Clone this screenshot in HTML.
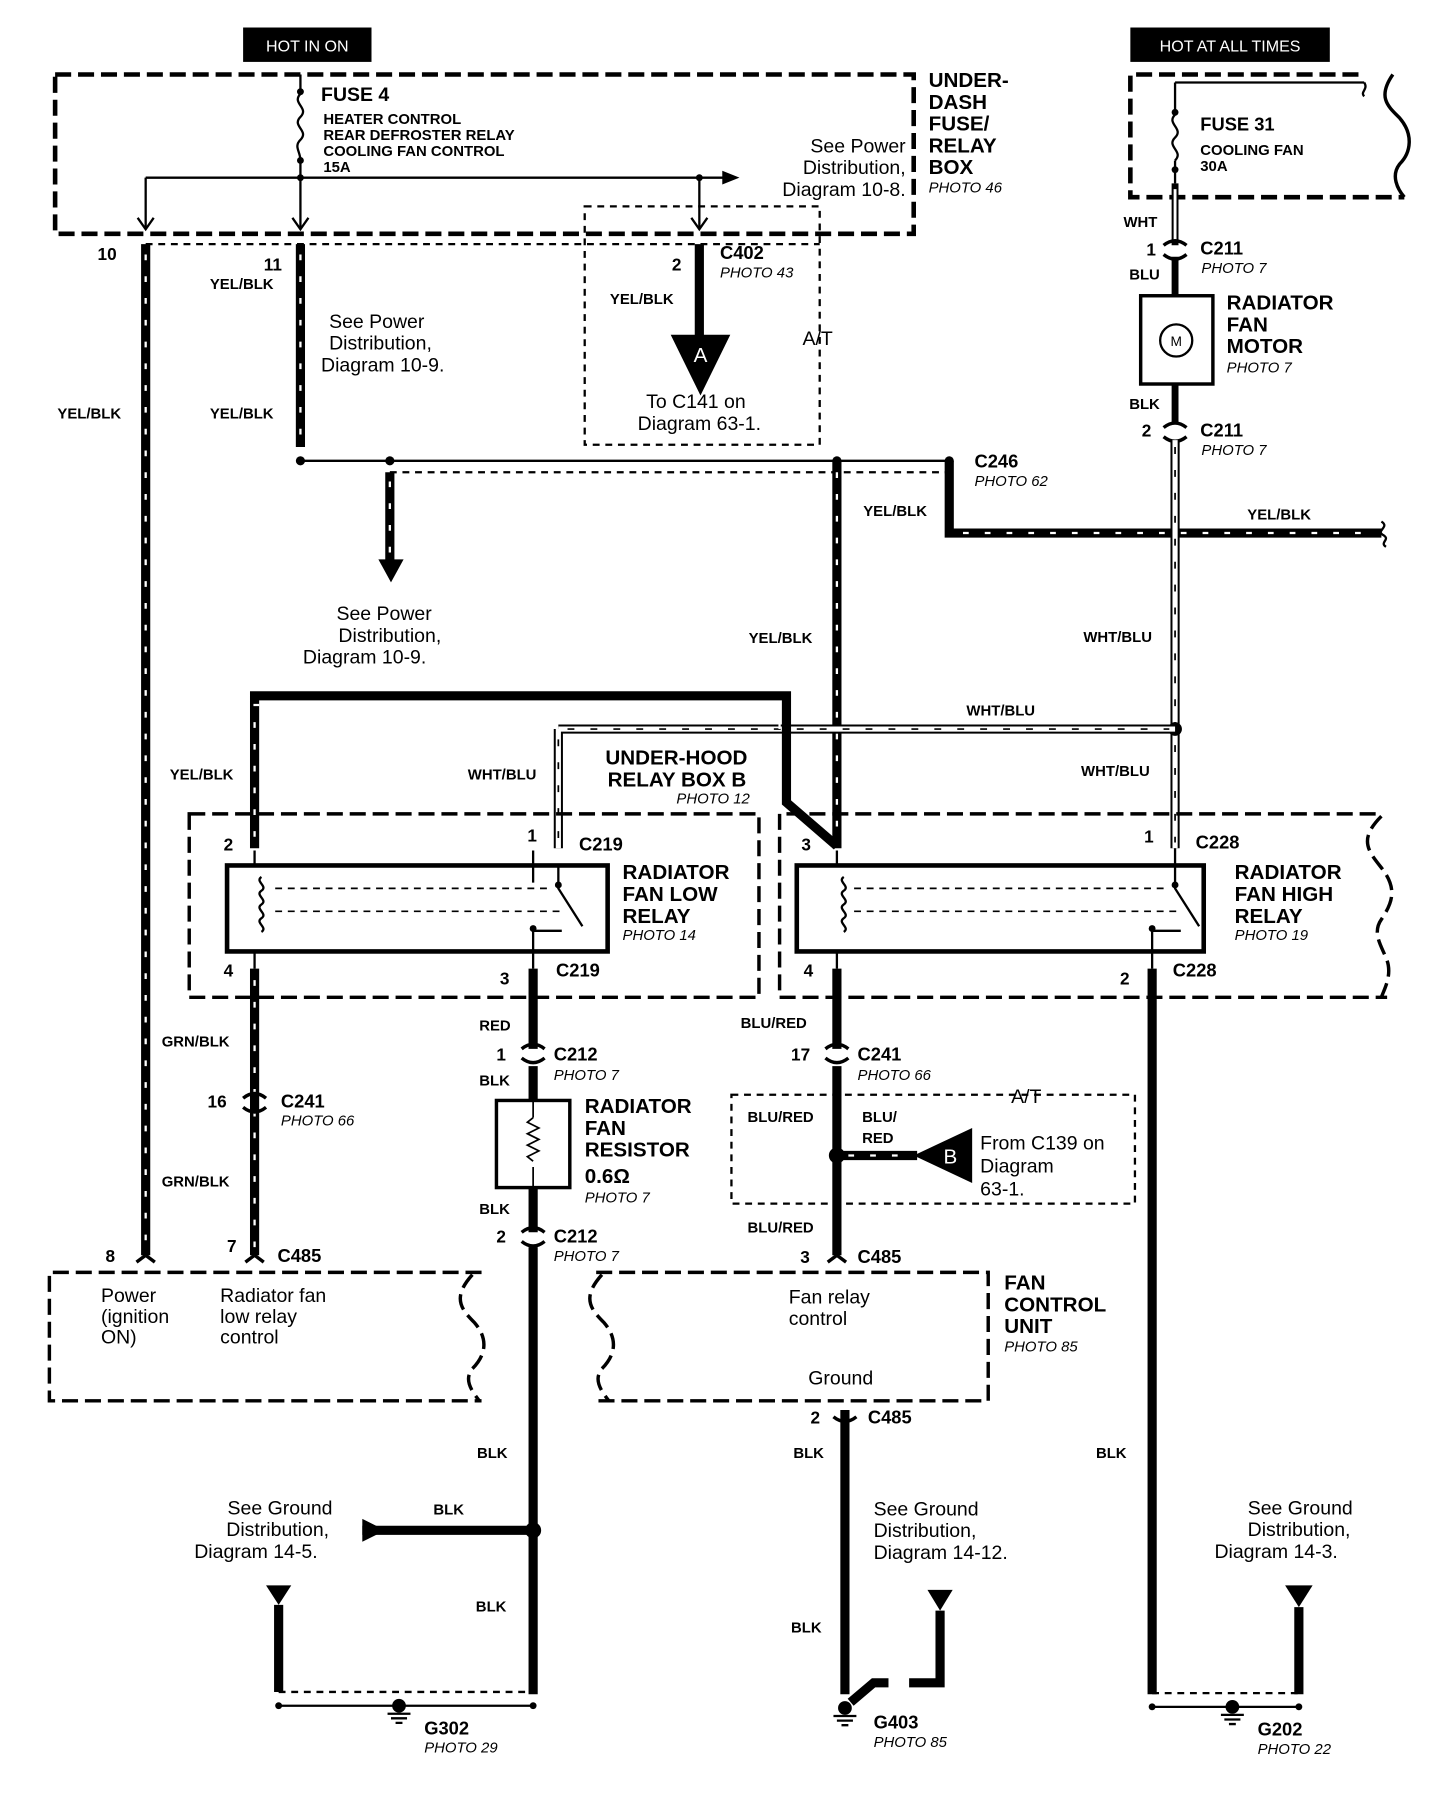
<!DOCTYPE html>
<html><head><meta charset="utf-8"><style>
html,body{margin:0;padding:0;background:#fff}
svg{display:block}
text{font-family:"Liberation Sans",sans-serif;fill:#000}
.b{font-weight:bold}
.t{font-size:17px}
.s{font-size:13px;font-weight:bold}
.h{font-size:18px;font-weight:bold}
.p{font-size:13px;font-style:italic}
.yb{stroke:#000;stroke-width:8;fill:none}
.yw{stroke:#fff;stroke-width:2;stroke-dasharray:5 14;fill:none}
.wb{stroke:#000;stroke-width:8;fill:none}
.ww{stroke:#fff;stroke-width:4.5;fill:none}
.wd{stroke:#000;stroke-width:1.5;stroke-dasharray:6 14;fill:none}
.bk{stroke:#000;stroke-width:8;fill:none}
.th{stroke:#000;stroke-width:2;fill:none}
.db{stroke:#000;stroke-width:4;stroke-dasharray:14 6;fill:none}
.dt{stroke:#000;stroke-width:2;stroke-dasharray:6 5;fill:none}
</style></head><body>
<svg width="1456" height="1802" viewBox="0 0 1270 1572" xmlns="http://www.w3.org/2000/svg">
<!-- headers -->
<rect x="212" y="24" width="112" height="30" fill="#000"/>
<text x="268" y="45" text-anchor="middle" style="fill:#fff;font-size:14px">HOT IN ON</text>
<rect x="986" y="24" width="174" height="30" fill="#000"/>
<text x="1073" y="45" text-anchor="middle" style="fill:#fff;font-size:14px">HOT AT ALL TIMES</text>

<!-- under-dash box -->
<rect x="48" y="65" width="749" height="139" class="db"/>
<path d="M262 65 V80 M262 140 V155" class="th"/>
<path d="M262 82 c-8 8 8 12 0 20 c-8 8 8 12 0 20 c-6 6 0 10 0 18" class="th"/>
<circle cx="262" cy="80" r="3"/><circle cx="262" cy="140" r="3"/>
<path d="M127 155 H640" class="th"/>
<path d="M630 149 L645 155 L630 161 Z"/>
<circle cx="262" cy="155" r="3"/><circle cx="610" cy="155" r="3"/>
<path d="M127 155 V200 M262 155 V200 M610 155 V200" class="th"/>
<path d="M120 190 L127 200 L134 190 M255 190 L262 200 L269 190 M603 190 L610 200 L617 190" class="th"/>
<text x="280" y="88" class="b" style="font-size:17px">FUSE 4</text>
<text x="282" y="108" class="s">HEATER CONTROL</text>
<text x="282" y="122" class="s">REAR DEFROSTER RELAY</text>
<text x="282" y="136" class="s">COOLING FAN CONTROL</text>
<text x="282" y="150" class="s">15A</text>
<text x="790" y="133" text-anchor="end" class="t">See Power</text>
<text x="790" y="152" text-anchor="end" class="t">Distribution,</text>
<text x="790" y="171" text-anchor="end" class="t">Diagram 10-8.</text>
<text x="810" y="76" class="h">UNDER-</text>
<text x="810" y="95" class="h">DASH</text>
<text x="810" y="114" class="h">FUSE/</text>
<text x="810" y="133" class="h">RELAY</text>
<text x="810" y="152" class="h">BOX</text>
<text x="810" y="168" class="p">PHOTO 46</text>
<path d="M127 213 H715" class="dt"/>

<!-- pin 10 wire -->
<path d="M127 213 V1095" class="yb"/><path d="M127 222 V1090" class="yw"/>
<text x="85" y="227" class="s" style="font-size:15px">10</text>
<text x="50" y="365" class="s">YEL/BLK</text>
<!-- pin 11 -->
<path d="M262 213 V390" class="yb"/><path d="M262 222 V385" class="yw"/>
<text x="230" y="236" class="s" style="font-size:15px">11</text>
<text x="183" y="252" class="s">YEL/BLK</text>
<text x="183" y="365" class="s">YEL/BLK</text>
<text x="287" y="286" class="t">See Power</text>
<text x="287" y="305" class="t">Distribution,</text>
<text x="280" y="324" class="t">Diagram 10-9.</text>
<path d="M262 402 H828" class="th"/>
<circle cx="262" cy="402" r="4"/><circle cx="340" cy="402" r="4"/><circle cx="730" cy="402" r="4"/><circle cx="828" cy="402" r="4"/>
<path d="M340 412 H828" class="dt"/>

<!-- A/T box C402 -->
<rect x="510" y="180" width="205" height="208" class="dt"/>
<path d="M610 213 V300" class="bk"/>
<path d="M585 292 L637 292 L611 345 Z"/>
<text x="611" y="316" text-anchor="middle" style="fill:#fff;font-size:18px">A</text>
<text x="586" y="236" class="s" style="font-size:15px">2</text>
<text x="628" y="226" class="b" style="font-size:16px">C402</text>
<text x="628" y="242" class="p">PHOTO 43</text>
<text x="532" y="265" class="s">YEL/BLK</text>
<text x="700" y="301" class="t">A/T</text>
<text x="607" y="356" text-anchor="middle" class="t">To C141 on</text>
<text x="610" y="375" text-anchor="middle" class="t">Diagram 63-1.</text>

<!-- 340 arrow -->
<path d="M340 412 V492" class="yb"/><path d="M340 420 V488" class="yw"/>
<path d="M330 488 L352 488 L341 508 Z"/>
<text x="335" y="541" text-anchor="middle" class="t">See Power</text>
<text x="340" y="560" text-anchor="middle" class="t">Distribution,</text>
<text x="318" y="579" text-anchor="middle" class="t">Diagram 10-9.</text>

<!-- 730 wire -->
<path d="M730 402 V740" class="yb"/><path d="M730 412 V735" class="yw"/>
<text x="753" y="450" class="s">YEL/BLK</text>
<text x="653" y="561" class="s">YEL/BLK</text>
<!-- 828 wire -->
<path d="M828 402 V465 H1205" class="yb"/><path d="M840 465 H1200" class="yw"/>
<path d="M1205 455 c8 5 -6 8 2 12 c6 4 -4 6 2 10" class="th"/>
<text x="850" y="408" class="b" style="font-size:16px">C246</text>
<text x="850" y="424" class="p">PHOTO 62</text>
<text x="1088" y="453" class="s">YEL/BLK</text>

<!-- right fuse box -->
<path d="M1185 65 H986 V172 H1225" class="db"/>
<path d="M1215 65 c-14 20 -4 28 6 38 c12 14 10 30 0 40 c-8 10 -2 22 4 29" class="db" style="stroke-dasharray:none;stroke-width:3"/>
<path d="M1025 72 H1190 M1025 72 V98 M1025 140 V160" class="th"/>
<path d="M1190 72 c4 6 -4 8 0 12" class="th"/>
<path d="M1025 100 c-8 8 8 12 0 20 c-8 8 8 12 0 20" class="th"/>
<circle cx="1025" cy="98" r="3"/><circle cx="1025" cy="148" r="3"/>
<text x="1047" y="114" class="b" style="font-size:16px">FUSE 31</text>
<text x="1047" y="135" class="s">COOLING FAN</text>
<text x="1047" y="149" class="s">30A</text>
<path d="M1025 160 V214" class="ww" style="stroke:#000;stroke-width:6"/><path d="M1025 165 V210" class="ww" style="stroke-width:2.5"/>
<text x="980" y="198" class="s">WHT</text>
<text x="1000" y="223" class="s" style="font-size:15px">1</text>
<path d="M1015 214 q10 -8 20 0 M1015 222 q10 8 20 0" class="th" style="stroke-width:3"/>
<text x="1047" y="222" class="b" style="font-size:16px">C211</text>
<text x="1048" y="238" class="p">PHOTO 7</text>
<text x="985" y="244" class="s">BLU</text>
<path d="M1025 224 V258 M1025 335 V370" class="bk" style="stroke-width:6"/>
<rect x="995" y="258" width="63" height="77" fill="none" stroke="#000" stroke-width="3"/>
<circle cx="1026" cy="297" r="14" fill="none" stroke="#000" stroke-width="2"/>
<text x="1026" y="302" text-anchor="middle" style="font-size:12px">M</text>
<text x="1070" y="270" class="h">RADIATOR</text>
<text x="1070" y="289" class="h">FAN</text>
<text x="1070" y="308" class="h">MOTOR</text>
<text x="1070" y="325" class="p">PHOTO 7</text>
<text x="985" y="357" class="s">BLK</text>
<text x="996" y="381" class="s" style="font-size:15px">2</text>
<path d="M1015 373 q10 -8 20 0 M1015 381 q10 8 20 0" class="th" style="stroke-width:3"/>
<text x="1047" y="381" class="b" style="font-size:16px">C211</text>
<text x="1048" y="397" class="p">PHOTO 7</text>
<!-- WHT/BLU vertical -->
<path d="M1025 384 V740" class="wb"/><path d="M1025 384 V740" class="ww"/><path d="M1025 390 V735" class="wd"/>
<circle cx="1025" cy="636" r="6"/>
<path d="M487 636 H1025 M487 636 V740" class="wb"/><path d="M487 636 H1025 M487 636 V740" class="ww"/><path d="M495 636 H1020 M487 645 V735" class="wd"/>
<text x="945" y="560" class="s">WHT/BLU</text>
<text x="843" y="624" class="s">WHT/BLU</text>
<text x="943" y="677" class="s">WHT/BLU</text>
<text x="408" y="680" class="s">WHT/BLU</text>
<!-- YEL/BLK loop -->
<path d="M222 740 V607 H686 V700 L730 738" class="yb"/><path d="M222 730 V615 H680 V695" class="yw"/>
<text x="148" y="680" class="s">YEL/BLK</text>
<text x="528" y="667" class="h">UNDER-HOOD</text>
<text x="530" y="686" class="h">RELAY BOX B</text>
<text x="590" y="701" class="p">PHOTO 12</text>

<!-- left relay -->
<rect x="165" y="710" width="497" height="160" class="db" style="stroke-width:3"/>
<rect x="198" y="755" width="332" height="75" fill="none" stroke="#000" stroke-width="4"/>
<path d="M222 742 V755 M222 830 V845 M465 742 V770 M465 812 V845" class="th"/>
<path d="M228 765 c-6 4 6 8 0 12 c-6 4 6 8 0 12 c-6 4 6 8 0 12 c-6 4 6 8 0 12" class="th"/>
<path d="M240 775 H480 M240 795 H490" class="dt" style="stroke-width:1.5"/>
<path d="M487 755 V775 L508 808 M465 812 H490" class="th"/>
<circle cx="487" cy="772" r="3"/><circle cx="465" cy="810" r="3"/>
<text x="195" y="742" class="s" style="font-size:15px">2</text>
<text x="460" y="734" class="s" style="font-size:15px">1</text>
<text x="505" y="742" class="b" style="font-size:16px">C219</text>
<text x="195" y="852" class="s" style="font-size:15px">4</text>
<text x="436" y="859" class="s" style="font-size:15px">3</text>
<text x="485" y="852" class="b" style="font-size:16px">C219</text>
<text x="543" y="767" class="h">RADIATOR</text>
<text x="543" y="786" class="h">FAN LOW</text>
<text x="543" y="805" class="h">RELAY</text>
<text x="543" y="820" class="p">PHOTO 14</text>

<!-- right relay -->
<path d="M1200 710 H680 V870 H1210" class="db" style="stroke-width:3"/>
<path d="M1205 712 c-20 20 -12 30 0 45 c14 18 10 30 0 45 c-10 14 4 28 6 40 c2 12 -4 22 -6 28" fill="none" stroke="#000" stroke-width="3" stroke-dasharray="14 6"/>
<rect x="695" y="755" width="355" height="75" fill="none" stroke="#000" stroke-width="4"/>
<path d="M730 742 V755 M730 830 V845 M1005 812 V845" class="th"/>
<path d="M736 765 c-6 4 6 8 0 12 c-6 4 6 8 0 12 c-6 4 6 8 0 12 c-6 4 6 8 0 12" class="th"/>
<path d="M745 775 H1015 M745 795 H1030" class="dt" style="stroke-width:1.5"/>
<path d="M1025 740 V775 L1046 808 M1005 812 H1030" class="th"/>
<circle cx="1025" cy="772" r="3"/><circle cx="1005" cy="810" r="3"/>
<text x="699" y="742" class="s" style="font-size:15px">3</text>
<text x="998" y="735" class="s" style="font-size:15px">1</text>
<text x="1043" y="740" class="b" style="font-size:16px">C228</text>
<text x="701" y="852" class="s" style="font-size:15px">4</text>
<text x="977" y="859" class="s" style="font-size:15px">2</text>
<text x="1023" y="852" class="b" style="font-size:16px">C228</text>
<text x="1077" y="767" class="h">RADIATOR</text>
<text x="1077" y="786" class="h">FAN HIGH</text>
<text x="1077" y="805" class="h">RELAY</text>
<text x="1077" y="820" class="p">PHOTO 19</text>

<!-- GRN/BLK -->
<path d="M222 845 V1095" class="yb"/><path d="M222 855 V1090" class="yw"/>
<path d="M212 958 q10 -8 20 0 M212 966 q10 8 20 0" class="th" style="stroke-width:3"/>
<text x="141" y="913" class="s">GRN/BLK</text>
<text x="181" y="966" class="s" style="font-size:15px">16</text>
<text x="245" y="966" class="b" style="font-size:16px">C241</text>
<text x="245" y="982" class="p">PHOTO 66</text>
<text x="141" y="1035" class="s">GRN/BLK</text>
<text x="198" y="1092" class="s" style="font-size:15px">7</text>
<text x="92" y="1101" class="s" style="font-size:15px">8</text>
<text x="242" y="1101" class="b" style="font-size:16px">C485</text>

<!-- RED / resistor -->
<path d="M465 845 V915 M465 930 V960 M465 1036 V1075 M465 1088 V1478" class="bk"/>
<path d="M455 915 q10 -8 20 0 M455 923 q10 8 20 0 M455 1075 q10 -8 20 0 M455 1083 q10 8 20 0" class="th" style="stroke-width:3"/>
<rect x="433" y="960" width="64" height="76" fill="none" stroke="#000" stroke-width="3"/>
<path d="M465 975 l-5 4 10 5 -10 5 10 5 -10 5 10 5 -10 5 5 4 M465 960 V975 M465 1018 V1036" class="th" style="stroke-width:1.5"/>
<text x="418" y="899" class="s">RED</text>
<text x="433" y="925" class="s" style="font-size:15px">1</text>
<text x="483" y="925" class="b" style="font-size:16px">C212</text>
<text x="483" y="942" class="p">PHOTO 7</text>
<text x="418" y="947" class="s">BLK</text>
<text x="510" y="971" class="h">RADIATOR</text>
<text x="510" y="990" class="h">FAN</text>
<text x="510" y="1009" class="h">RESISTOR</text>
<text x="510" y="1032" class="h">0.6Ω</text>
<text x="510" y="1049" class="p">PHOTO 7</text>
<text x="418" y="1059" class="s">BLK</text>
<text x="433" y="1084" class="s" style="font-size:15px">2</text>
<text x="483" y="1084" class="b" style="font-size:16px">C212</text>
<text x="483" y="1100" class="p">PHOTO 7</text>

<!-- BLU/RED -->
<path d="M730 845 V915 M730 930 V1095" class="bk"/>
<path d="M720 915 q10 -8 20 0 M720 923 q10 8 20 0" class="th" style="stroke-width:3"/>
<text x="646" y="897" class="s">BLU/RED</text>
<text x="690" y="925" class="s" style="font-size:15px">17</text>
<text x="748" y="925" class="b" style="font-size:16px">C241</text>
<text x="748" y="942" class="p">PHOTO 66</text>
<rect x="638" y="955" width="352" height="95" class="dt"/>
<text x="882" y="962" class="t">A/T</text>
<circle cx="730" cy="1008" r="7"/>
<path d="M730 1008 H800" class="bk"/><path d="M740 1008 H795" class="yw"/>
<path d="M797 1008 L848 984 L848 1032 Z"/>
<circle cx="829" cy="1008" r="12" fill="#000"/>
<text x="829" y="1015" text-anchor="middle" style="fill:#fff;font-size:18px">B</text>
<text x="652" y="979" class="s">BLU/RED</text>
<text x="752" y="979" class="s">BLU/</text>
<text x="752" y="997" class="s">RED</text>
<text x="855" y="1003" class="t">From C139 on</text>
<text x="855" y="1023" class="t">Diagram</text>
<text x="855" y="1043" class="t">63-1.</text>
<text x="652" y="1075" class="s">BLU/RED</text>
<text x="698" y="1102" class="s" style="font-size:15px">3</text>
<text x="748" y="1102" class="b" style="font-size:16px">C485</text>

<!-- high relay BLK -->
<path d="M1005 845 V1478" class="bk"/>
<text x="956" y="1272" class="s">BLK</text>

<!-- bottom boxes -->
<path d="M420 1110 H43 V1222 H420" class="db" style="stroke-width:3"/>
<path d="M412 1112 c-18 20 -10 30 2 42 c12 14 10 28 -2 40 c-8 10 0 20 6 28" fill="none" stroke="#000" stroke-width="3" stroke-dasharray="14 6"/>
<text x="88" y="1136" class="t">Power</text>
<text x="88" y="1154" class="t">(ignition</text>
<text x="88" y="1172" class="t">ON)</text>
<text x="192" y="1136" class="t">Radiator fan</text>
<text x="192" y="1154" class="t">low relay</text>
<text x="192" y="1172" class="t">control</text>
<path d="M520 1110 H862 V1222 H520" class="db" style="stroke-width:3"/>
<path d="M525 1112 c-18 20 -10 30 2 42 c12 14 10 28 -2 40 c-8 10 0 20 6 28" fill="none" stroke="#000" stroke-width="3" stroke-dasharray="14 6"/>
<text x="688" y="1137" class="t">Fan relay</text>
<text x="688" y="1156" class="t">control</text>
<text x="705" y="1208" class="t">Ground</text>
<text x="876" y="1125" class="h">FAN</text>
<text x="876" y="1144" class="h">CONTROL</text>
<text x="876" y="1163" class="h">UNIT</text>
<text x="876" y="1179" class="p">PHOTO 85</text>
<path d="M127 1095 l-8 6 M127 1095 l8 6 M222 1095 l-8 6 M222 1095 l8 6 M730 1095 l-8 6 M730 1095 l8 6" class="th" style="stroke-width:3"/>

<!-- G403 -->
<path d="M737 1230 V1478" class="bk"/>
<path d="M727 1236 q10 8 20 0" class="th" style="stroke-width:3"/>
<text x="707" y="1242" class="s" style="font-size:15px">2</text>
<text x="757" y="1242" class="b" style="font-size:16px">C485</text>
<text x="692" y="1272" class="s">BLK</text>
<text x="690" y="1424" class="s">BLK</text>
<text x="762" y="1322" class="t">See Ground</text>
<text x="762" y="1341" class="t">Distribution,</text>
<text x="762" y="1360" class="t">Diagram 14-12.</text>
<path d="M809 1387 L831 1387 L820 1405 Z"/>
<path d="M820 1405 V1468 H793 M775 1468 H762 L742 1485" class="bk"/>
<circle cx="737" cy="1490" r="6"/>
<path d="M727 1497 H747 M730 1501 H744 M734 1505 H740" class="th"/>
<text x="762" y="1508" class="b" style="font-size:16px">G403</text>
<text x="762" y="1524" class="p">PHOTO 85</text>

<!-- G302 -->
<path d="M316 1335 H465" class="bk"/>
<path d="M316 1325 L336 1335 L316 1345 Z"/>
<circle cx="465" cy="1335" r="7"/>
<text x="378" y="1321" class="s">BLK</text>
<text x="416" y="1272" class="s">BLK</text>
<text x="415" y="1406" class="s">BLK</text>
<text x="290" y="1321" text-anchor="end" class="t">See Ground</text>
<text x="287" y="1340" text-anchor="end" class="t">Distribution,</text>
<text x="277" y="1359" text-anchor="end" class="t">Diagram 14-5.</text>
<path d="M232 1383 L254 1383 L243 1400 Z"/>
<path d="M243 1400 V1476" class="bk"/>
<path d="M243 1476 H465" class="dt"/>
<path d="M243 1488 H465" class="th"/>
<circle cx="243" cy="1488" r="3"/><circle cx="465" cy="1488" r="3"/><circle cx="348" cy="1488" r="6"/>
<path d="M338 1495 H358 M341 1499 H355 M345 1503 H351" class="th"/>
<text x="370" y="1513" class="b" style="font-size:16px">G302</text>
<text x="370" y="1529" class="p">PHOTO 29</text>

<!-- G202 -->
<text x="1180" y="1321" text-anchor="end" class="t">See Ground</text>
<text x="1178" y="1340" text-anchor="end" class="t">Distribution,</text>
<text x="1167" y="1359" text-anchor="end" class="t">Diagram 14-3.</text>
<path d="M1121 1383 L1145 1383 L1133 1402 Z"/>
<path d="M1133 1402 V1478" class="bk"/>
<path d="M1005 1477 H1133" class="dt"/>
<path d="M1005 1489 H1133" class="th"/>
<circle cx="1005" cy="1489" r="3"/><circle cx="1133" cy="1489" r="3"/><circle cx="1075" cy="1489" r="6"/>
<path d="M1065 1496 H1085 M1068 1500 H1082 M1072 1504 H1078" class="th"/>
<text x="1097" y="1514" class="b" style="font-size:16px">G202</text>
<text x="1097" y="1530" class="p">PHOTO 22</text>
</svg>
</body></html>
